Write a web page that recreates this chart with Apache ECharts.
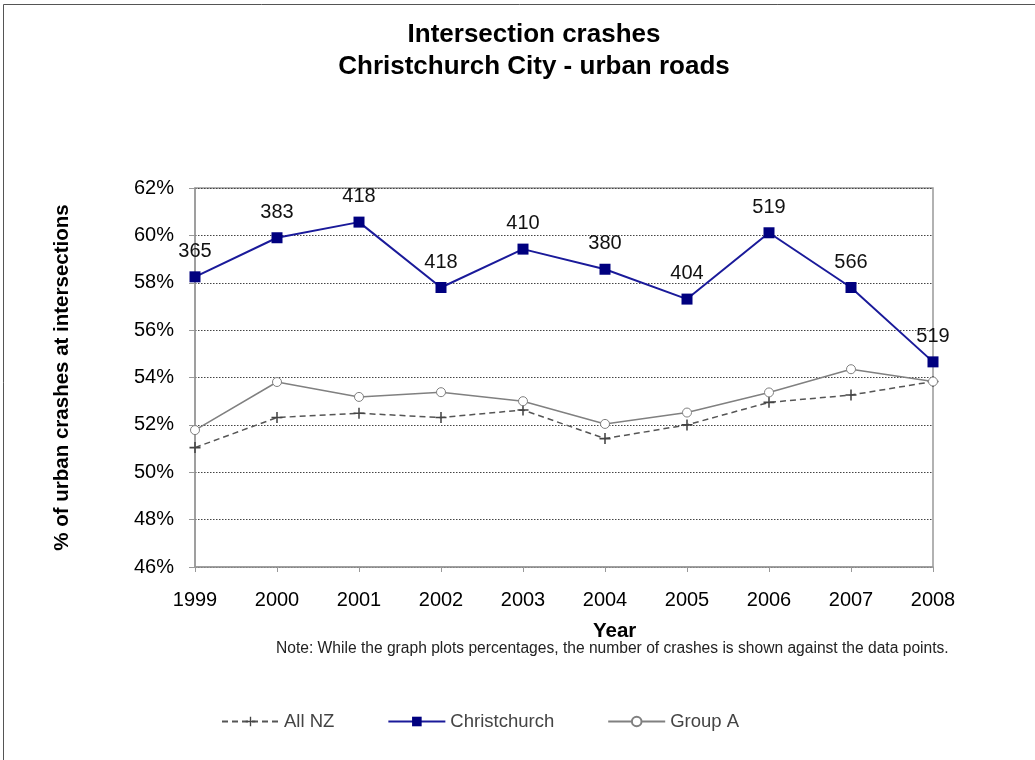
<!DOCTYPE html>
<html>
<head>
<meta charset="utf-8">
<script src="https://cdn.jsdelivr.net/npm/echarts@6/dist/echarts.min.js"></script>
<style>
  html, body { margin: 0; padding: 0; background: #fff; }
  #chart { width: 1035px; height: 760px; }
</style>
</head>
<body>
<div id="chart"></div>
<script>
// Years on the horizontal axis
const years = ['1999', '2000', '2001', '2002', '2003', '2004', '2005', '2006', '2007', '2008'];

// Share of urban crashes occurring at intersections (%)
const allNZ        = [51.04, 52.31, 52.49, 52.31, 52.63, 51.42, 52.00, 52.95, 53.26, 53.83];
const christchurch = [58.25, 59.90, 60.56, 57.80, 59.42, 58.57, 57.31, 60.11, 57.80, 54.66];
const groupA       = [51.78, 53.81, 53.18, 53.38, 53.00, 52.04, 52.52, 53.37, 54.35, 53.83];

// Number of Christchurch intersection crashes, shown against each point
const christchurchCounts = [365, 383, 418, 418, 410, 380, 404, 519, 566, 519];

// Y axis range (%)
const yMin = 46, yMax = 62, yStep = 2;

const FONT = 'Liberation Sans, Arial, sans-serif';
const PLUS = 'path://M4.3,0H5.7V4.3H10V5.7H5.7V10H4.3V5.7H0V4.3H4.3Z';

const chart = echarts.init(document.getElementById('chart'), null, { renderer: 'canvas' });

chart.setOption({
  animation: false,
  backgroundColor: '#fff',
  textStyle: { fontFamily: FONT },
  title: {
    text: 'Intersection crashes\nChristchurch City - urban roads',
    left: 529, top: 14, textAlign: 'center',
    textStyle: { fontFamily: FONT, fontSize: 26, fontWeight: 'bold', color: '#000', lineHeight: 32 }
  },
  graphic: [
    { type: 'rect', shape: { x: 3.5, y: 4.5, width: 1100, height: 800 },
      style: { fill: 'none', stroke: '#555', lineWidth: 1 }, silent: true },
    // X axis title, sitting right of the axis centre
    { type: 'text', left: 593, top: 621,
      style: { text: 'Year', font: 'bold 20.5px "Liberation Sans", Arial, sans-serif', fill: '#000' } },
    { type: 'text', left: 276, top: 641,
      style: { text: 'Note: While the graph plots percentages, the number of crashes is shown against the data points.',
               font: '15.6px "Liberation Sans", Arial, sans-serif', fill: '#222' } }
  ],
  legend: {
    left: 216, top: 707, itemGap: 53, itemWidth: 57, itemHeight: 12,
    textStyle: { fontFamily: FONT, fontSize: 18.5, color: '#444' },
    data: ['All NZ', 'Christchurch', 'Group A']
  },
  grid: {
    left: 195, right: 102, top: 188, bottom: 193,
    show: true, borderColor: '#999', borderWidth: 1.5, containLabel: false
  },
  xAxis: {
    type: 'category', data: years, boundaryGap: false,
    axisLine: { lineStyle: { color: '#999', width: 1.5 } },
    axisTick: { show: true, length: 5, lineStyle: { color: '#999' } },
    axisLabel: { fontSize: 20, color: '#000', margin: 23 },
    splitLine: { show: false }
  },
  yAxis: {
    type: 'value', min: yMin, max: yMax, interval: yStep,
    name: '% of urban crashes at intersections', nameLocation: 'middle', nameGap: 122, nameRotate: 90,
    nameTextStyle: { fontFamily: FONT, fontSize: 20.5, fontWeight: 'bold', color: '#000' },
    axisLine: { show: true, lineStyle: { color: '#999', width: 1.5 } },
    axisTick: { show: true, length: 6, lineStyle: { color: '#999' } },
    axisLabel: { fontSize: 20, color: '#000', margin: 21, formatter: '{value}%' },
    splitLine: { show: true, lineStyle: { color: '#444', type: [1.5, 1.5], width: 1 } }
  },
  series: [
    {
      name: 'All NZ', type: 'line', data: allNZ, z: 3,
      symbol: PLUS, symbolSize: 11, showAllSymbol: true,
      lineStyle: { color: '#555', width: 1.5, type: [6, 4] },
      itemStyle: { color: '#444' }
    },
    {
      name: 'Christchurch', type: 'line', data: christchurch, z: 5,
      symbol: 'rect', symbolSize: 11, showAllSymbol: true,
      lineStyle: { color: '#1a1a9a', width: 2 },
      itemStyle: { color: '#00007f' },
      label: {
        show: true, position: 'top', distance: 10,
        fontFamily: FONT, fontSize: 20, color: '#111',
        formatter: p => christchurchCounts[p.dataIndex]
      }
    },
    {
      name: 'Group A', type: 'line', data: groupA, z: 4,
      symbol: 'circle', symbolSize: 9, showAllSymbol: true,
      lineStyle: { color: '#808080', width: 1.5 },
      itemStyle: { color: '#fff', borderColor: '#808080', borderWidth: 1 }
    }
  ]
});
</script>
</body>
</html>
